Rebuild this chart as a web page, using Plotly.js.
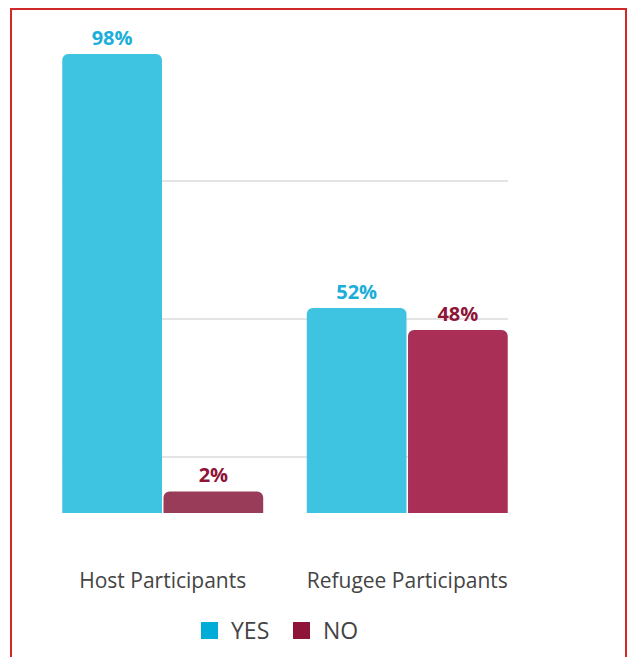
<!DOCTYPE html>
<html><head><meta charset="utf-8">
<script src="https://cdn.plot.ly/plotly-3.0.1.min.js"></script>
<style>
html,body{margin:0;padding:0;background:#fff;overflow:hidden}
#chart{width:628px;height:657px}
#frame{position:absolute;left:10px;top:8px;width:613px;height:700px;border:2px solid #d22828;border-bottom:none;pointer-events:none}
</style></head>
<body><div id="chart"></div><div id="frame"></div>
<script>
// ---- data ----
const categories = ['Host Participants', 'Refugee Participants'];
const yesValues = [98, 52];
const noValues = [2, 48];
const seriesNames = ['YES', 'NO'];
const valueLabelsYes = ['98%', '52%'];
const valueLabelsNo = ['2%', '48%'];

// ---- styling ----
const yesColor = '#3ec3e1';
const noColors = ['#983c5a', '#a92f56'];
const yesLabelColor = '#1aaed8';
const noLabelColor = '#8e1538';
const legendColors = ['#00acd8', '#8e1538'];
const FONT = '"Open Sans", "Noto Sans", sans-serif';

// axis range of the original (its value axis does not start at zero,
// tiny bars get a minimum visible height as in the source chart)
const yMin = 14.86, yMax = 99.1, minBarUnits = 3.9;
const shown = v => Math.max(v, yMin + minBarUnits);

const M = {l: 62, r: 120, t: 48, b: 144};
const W = 628, H = 657;
const pw = W - M.l - M.r, ph = H - M.t - M.b;
const px = x => (x - M.l) / pw;
const py = y => (M.t + ph - y) / ph;

const traces = [
  {type: 'bar', name: seriesNames[0], x: categories, y: yesValues.map(shown),
   text: valueLabelsYes, textposition: 'outside', cliponaxis: false,
   textfont: {family: FONT, size: 20, color: yesLabelColor, weight: 'bold'},
   marker: {color: yesColor, cornerradius: 6, line: {width: 0}}, hoverinfo: 'skip'},
  {type: 'bar', name: seriesNames[1], x: categories, y: noValues.map(shown),
   text: valueLabelsNo, textposition: 'outside', cliponaxis: false,
   textfont: {family: FONT, size: 20, color: noLabelColor, weight: 'bold'},
   marker: {color: noColors, cornerradius: 6, line: {width: 0}}, hoverinfo: 'skip'}
];

// custom legend (larger squares than Plotly's built-in bar icon)
const legItems = [
  {name: seriesNames[0], color: legendColors[0], x0: 201},
  {name: seriesNames[1], color: legendColors[1], x0: 293}
];
const shapes = legItems.map(it => ({
  type: 'rect', xref: 'paper', yref: 'paper',
  x0: px(it.x0), x1: px(it.x0 + 17), y0: py(639), y1: py(622),
  fillcolor: it.color, line: {width: 0}
}));
const annotations = legItems.map(it => ({
  xref: 'paper', yref: 'paper', x: px(it.x0 + 28), y: py(630),
  xanchor: 'left', yanchor: 'middle', showarrow: false, text: it.name,
  font: {family: FONT, size: 23, color: '#444'}
}));

const layout = {
  width: W, height: H, margin: M,
  paper_bgcolor: '#fff', plot_bgcolor: '#fff',
  showlegend: false,
  barmode: 'group', bargap: 0.172, bargroupgap: 0.015,
  font: {family: FONT, color: '#444'},
  xaxis: {type: 'category', range: [-0.412, 1.412], showgrid: false, zeroline: false,
          showline: false, ticks: '', ticklabelstandoff: 53,
          tickfont: {family: FONT, size: 21, color: '#444'}},
  yaxis: {range: [yMin, yMax], tick0: 0, dtick: 25, showgrid: true,
          gridcolor: '#e4e4e4', gridwidth: 2, zeroline: false, showline: false,
          showticklabels: false, ticks: ''},
  shapes: shapes, annotations: annotations
};

Plotly.newPlot('chart', traces, layout, {displayModeBar: false, staticPlot: true});
</script>
</body></html>
